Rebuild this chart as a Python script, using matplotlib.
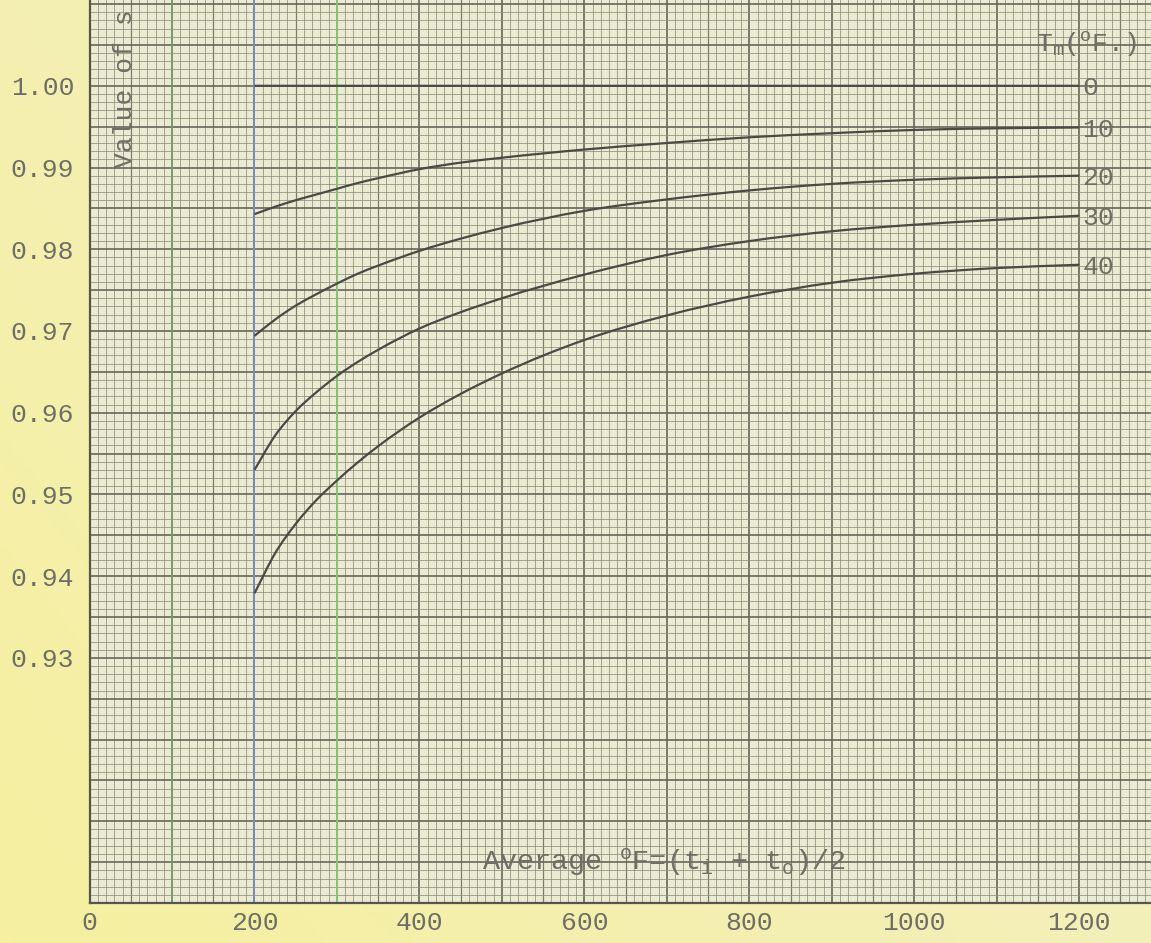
import numpy as np
import matplotlib.pyplot as plt
from matplotlib.colors import LinearSegmentedColormap
from matplotlib.path import Path
from matplotlib.patches import PathPatch

plt.rcParams["font.family"] = ["Liberation Mono", "DejaVu Sans Mono"]
plt.rcParams["mathtext.fontset"] = "custom"
plt.rcParams["mathtext.rm"] = "Liberation Mono"
plt.rcParams["mathtext.it"] = "Liberation Mono"

# average temperature (deg F) where the curves were read
AVG_TEMP = [200, 225, 250, 275, 300, 325, 350, 400, 450, 500,
            600, 700, 800, 900, 1000, 1100, 1200]

# value of s for each Tm curve
S_T0 = [1.0000] * 17
S_T10 = [0.9843, 0.9852, 0.9860, 0.9867, 0.9874, 0.9881, 0.9887, 0.9898, 0.9906,
         0.9912, 0.9922, 0.9930, 0.9937, 0.9942, 0.9946, 0.9948, 0.9949]
S_T20 = [0.9694, 0.9714, 0.9731, 0.9745, 0.9758, 0.9770, 0.9780, 0.9798, 0.9813,
         0.9826, 0.9847, 0.9861, 0.9872, 0.9880, 0.9885, 0.9888, 0.9890]
S_T30 = [0.9530, 0.9572, 0.9602, 0.9625, 0.9645, 0.9662, 0.9677, 0.9703, 0.9723,
         0.9740, 0.9769, 0.9793, 0.9810, 0.9822, 0.9830, 0.9836, 0.9841]
S_T40 = [0.9379, 0.9428, 0.9464, 0.9493, 0.9517, 0.9539, 0.9559, 0.9594, 0.9623,
         0.9648, 0.9689, 0.9719, 0.9742, 0.9759, 0.9770, 0.9777, 0.9781]

CURVES = [S_T0, S_T10, S_T20, S_T30, S_T40]
CURVE_LABELS = ["0", "10", "20", "30", "40"]

XTICKS = [0, 200, 400, 600, 800, 1000, 1200]
YTICKS = [0.93, 0.94, 0.95, 0.96, 0.97, 0.98, 0.99, 1.00]

C_PAPER = "#ebead2"
C_MARGIN = "#f3f0bf"
C_TEXT = "#6e6e66"
C_INK = "#4a4a45"


def hand_curve(xs, ys):
    """Smooth pen line through the read points (cubic pieces as Bezier)."""
    x = np.asarray(xs, float)
    y = np.asarray(ys, float)
    m = np.gradient(y, x)
    verts = [(x[0], y[0])]
    codes = [Path.MOVETO]
    for i in range(len(x) - 1):
        h = x[i + 1] - x[i]
        verts += [(x[i] + h / 3, y[i] + m[i] * h / 3),
                  (x[i + 1] - h / 3, y[i + 1] - m[i + 1] * h / 3),
                  (x[i + 1], y[i + 1])]
        codes += [Path.CURVE4] * 3
    return Path(verts, codes)


fig = plt.figure(figsize=(11.51, 9.43), dpi=100, facecolor=C_MARGIN)

# yellowish margin, a bit stronger toward the lower left corner
bg = fig.add_axes([0, 0, 1, 1], zorder=-10)
gx = np.linspace(1, 0, 200)[None, :]
gy = np.linspace(0, 1, 200)[:, None]
grad = np.clip(0.6 * gx + 0.4 * gy, 0, 1)
bg.imshow(grad, cmap=LinearSegmentedColormap.from_list("paper", ["#f1efca", "#f6f0a0"]),
          aspect="auto", extent=[0, 1, 0, 1])
bg.axis("off")

ax = fig.add_axes([0.0778, 0.0424, 0.9222, 0.9576], facecolor=C_PAPER)
ax.set_xlim(0, 1287)
ax.set_ylim(0.900, 1.0105)

# graph-paper ruling
for i in range(0, 130):
    xv = i * 10
    if i % 10 == 0:
        ax.axvline(xv, color="#66665a", lw=1.2, zorder=1)
    elif i % 5 == 0:
        ax.axvline(xv, color="#7c7c6a", lw=0.9, zorder=1)
    else:
        ax.axvline(xv, color="#8f8f7c", lw=0.55, zorder=1)
for j in range(0, 112):
    yv = 0.900 + j * 0.001
    if j % 5 == 0:
        ax.axhline(yv, color="#66665a", lw=1.2, zorder=1)
    else:
        ax.axhline(yv, color="#8f8f7c", lw=0.55, zorder=1)

# coloured rulings on the sheet
ax.axvline(100, color="#7f9f6c", lw=1.2, zorder=1.5)
ax.axvline(200, color="#8088bb", lw=1.4, zorder=1.5)
ax.axvline(300, color="#8cc07c", lw=1.4, zorder=1.5)

for vals, lab in zip(CURVES, CURVE_LABELS):
    ax.add_patch(PathPatch(hand_curve(AVG_TEMP, vals), fill=False,
                           edgecolor=C_INK, lw=1.6, zorder=3))
    ax.text(AVG_TEMP[-1] + 4, vals[-1] - 0.0003, lab, ha="left", va="center",
            fontsize=19, color=C_TEXT, zorder=4)

ax.text(1148, 1.0050, r"T$_{\rm m}$($^{\rm o}$F.)", ha="left", va="center",
        fontsize=19, color=C_TEXT, zorder=4)
ax.text(43, 0.9997, "Value of s", rotation=90, ha="center", va="center",
        fontsize=19, color=C_TEXT, zorder=4)
ax.text(697, 0.9050, r"Average $^{\rm o}$F=(t$_{\rm i}$ + t$_{\rm o}$)/2",
        ha="center", va="center", fontsize=20.5, color=C_TEXT, zorder=4)

ax.set_xticks(XTICKS)
ax.set_xticklabels([str(v) for v in XTICKS], fontsize=19, color=C_TEXT)
ax.set_yticks(YTICKS)
ax.set_yticklabels([f"{v:.2f}" for v in YTICKS], fontsize=19, color=C_TEXT)
ax.tick_params(axis="both", length=0)
ax.tick_params(axis="x", pad=6)
ax.tick_params(axis="y", pad=11)

ax.spines["top"].set_visible(False)
ax.spines["right"].set_visible(False)
for s in ("left", "bottom"):
    ax.spines[s].set_color("#55554a")
    ax.spines[s].set_linewidth(1.6)

fig.savefig("out.png", dpi=100, facecolor=fig.get_facecolor())
